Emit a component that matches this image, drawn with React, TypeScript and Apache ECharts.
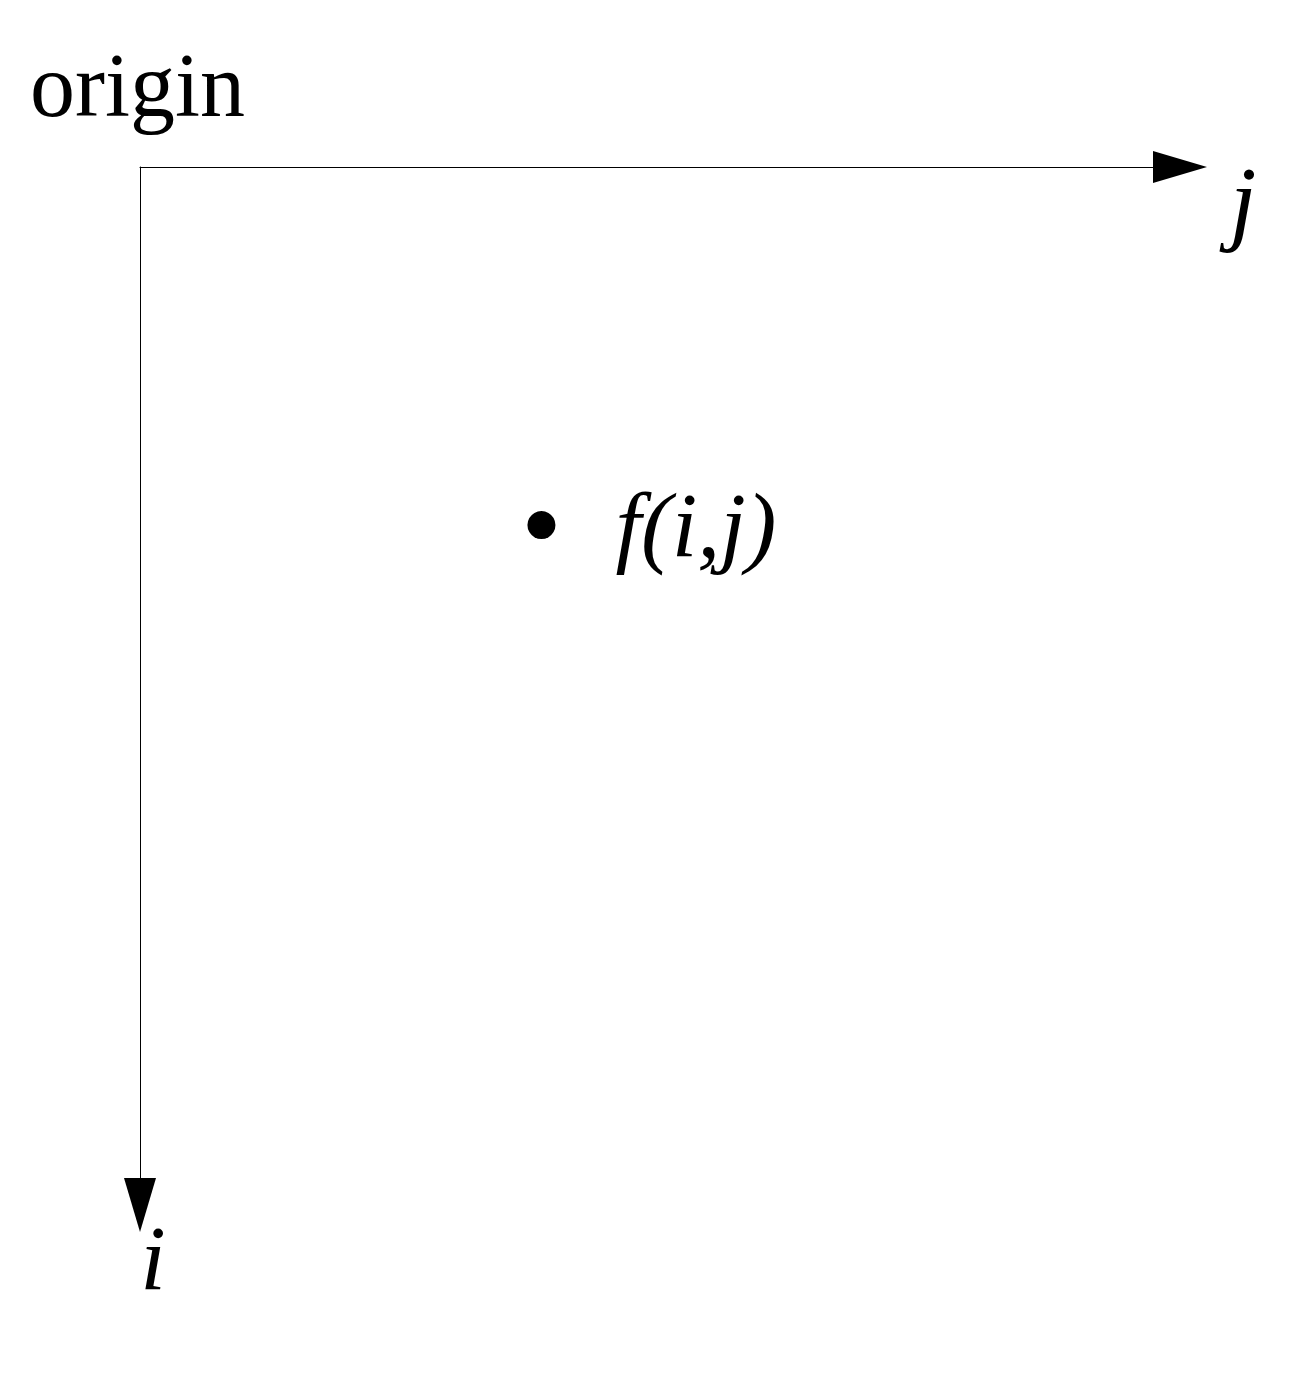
import React, { useEffect, useRef } from "react";
import * as echarts from "echarts";

// one sample point f(i,j), read as percentages of the axes
const pointJ = [38.6];
const pointI = [34.5];
const pointLabels = ["f(i,j)"];

const SERIF = "'Liberation Serif', 'DejaVu Serif', serif";

const App: React.FC = () => {
  const ref = useRef<HTMLDivElement>(null);

  useEffect(() => {
    if (!ref.current) return;
    const chart = echarts.init(ref.current, undefined, { renderer: "svg" });
    const line = { color: "#000", width: 1 };
    chart.setOption({
      animation: false,
      backgroundColor: "#fff",
      grid: { left: 140, top: 167, width: 1040, height: 1038 },
      xAxis: {
        type: "value",
        position: "top",
        min: 0,
        max: 100,
        axisLine: { show: true, symbol: ["none", "triangle"], symbolSize: [32, 54], lineStyle: line },
        axisTick: { show: false },
        axisLabel: { show: false },
        splitLine: { show: false },
      },
      yAxis: {
        type: "value",
        inverse: true,
        min: 0,
        max: 100,
        axisLine: { show: true, symbol: ["triangle", "none"], symbolSize: [32, 54], lineStyle: line },
        axisTick: { show: false },
        axisLabel: { show: false },
        splitLine: { show: false },
      },
      series: [
        {
          type: "scatter",
          symbolSize: 28,
          itemStyle: { color: "#000", opacity: 1 },
          data: pointJ.map((j, k) => ({ value: [j, pointI[k]], name: pointLabels[k] })),
          label: {
            show: true,
            position: "right",
            distance: 60,
            formatter: (p: any) => p.name,
            fontFamily: SERIF,
            fontStyle: "italic",
            fontSize: 92,
            color: "#000",
          },
        },
      ],
      graphic: [
        {
          type: "text",
          left: 30,
          top: 40,
          style: { text: "origin", font: `90px ${SERIF}`, fill: "#000" },
        },
        {
          type: "text",
          x: 1243,
          y: 200,
          style: {
            text: "j",
            font: `italic 96px ${SERIF}`,
            fill: "#000",
            align: "center",
            verticalAlign: "middle",
          },
        },
        {
          type: "text",
          x: 153,
          y: 1258,
          style: {
            text: "i",
            font: `italic 92px ${SERIF}`,
            fill: "#000",
            align: "center",
            verticalAlign: "middle",
          },
        },
      ],
    });
    return () => chart.dispose();
  }, []);

  return (
    <div
      ref={ref}
      style={{ position: "fixed", left: 0, top: 0, width: 1300, height: 1382 }}
    />
  );
};

export default App;
